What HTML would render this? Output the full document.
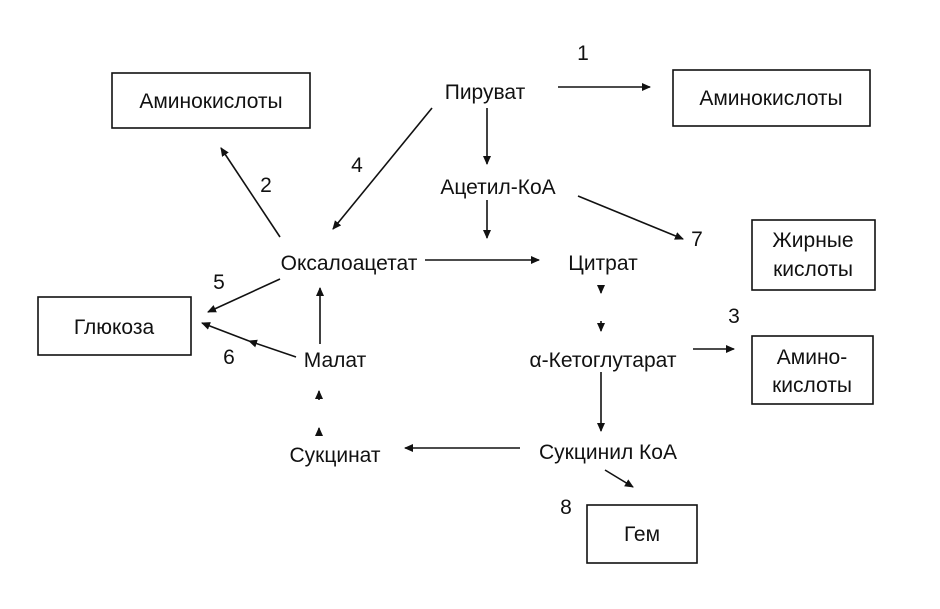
<!DOCTYPE html>
<html><head><meta charset="utf-8"><style>
html,body{margin:0;padding:0;background:#fff;}
svg{display:block}
text{font-family:"Liberation Sans","DejaVu Sans",sans-serif;font-size:21px;fill:#111}
</style></head><body>
<svg width="940" height="609" viewBox="0 0 940 609" xmlns="http://www.w3.org/2000/svg">
<defs>
<marker id="a" markerWidth="10" markerHeight="10" refX="8" refY="5" orient="auto" markerUnits="userSpaceOnUse">
<path d="M0,1 L9,5 L0,9 Z" fill="#111"/></marker>
</defs>
<g fill="none" stroke="#111" stroke-width="1.6">
<rect x="112" y="73" width="198" height="55"/>
<rect x="673" y="70" width="197" height="56"/>
<rect x="752" y="220" width="123" height="70"/>
<rect x="38" y="297" width="153" height="58"/>
<rect x="752" y="336" width="121" height="68"/>
<rect x="587" y="505" width="110" height="58"/>
</g>
<g stroke="#111" stroke-width="1.6" fill="none" marker-end="url(#a)">
<line x1="558" y1="87" x2="650" y2="87"/>
<line x1="487" y1="108" x2="487" y2="164"/>
<line x1="487" y1="200" x2="487" y2="238"/>
<line x1="432" y1="108" x2="333" y2="229"/>
<line x1="280" y1="237" x2="221" y2="148"/>
<line x1="578" y1="196" x2="683" y2="239"/>
<line x1="425" y1="260" x2="539" y2="260"/>
<line x1="280" y1="279" x2="208" y2="312"/>
<line x1="296" y1="357" x2="249" y2="341"/>
<line x1="249" y1="341" x2="202" y2="323"/>
<line x1="320" y1="344" x2="320" y2="288"/>
<line x1="319" y1="400" x2="319" y2="391"/>
<line x1="319" y1="436" x2="319" y2="428"/>
<line x1="601" y1="285" x2="601" y2="293"/>
<line x1="601" y1="321" x2="601" y2="331"/>
<line x1="693" y1="349" x2="734" y2="349"/>
<line x1="601" y1="372" x2="601" y2="431"/>
<line x1="520" y1="448" x2="405" y2="448"/>
<line x1="605" y1="470" x2="633" y2="487"/>
</g>
<text x="211" y="108" text-anchor="middle">Аминокислоты</text>
<text x="771" y="105" text-anchor="middle">Аминокислоты</text>
<text x="813" y="247" text-anchor="middle">Жирные</text>
<text x="813" y="276" text-anchor="middle">кислоты</text>
<text x="114" y="334" text-anchor="middle">Глюкоза</text>
<text x="812" y="364" text-anchor="middle">Амино-</text>
<text x="812" y="392" text-anchor="middle">кислоты</text>
<text x="642" y="541" text-anchor="middle">Гем</text>
<text x="485" y="99" text-anchor="middle">Пируват</text>
<text x="498" y="194" text-anchor="middle">Ацетил-КоА</text>
<text x="349" y="270" text-anchor="middle">Оксалоацетат</text>
<text x="603" y="270" text-anchor="middle">Цитрат</text>
<text x="335" y="367" text-anchor="middle">Малат</text>
<text x="603" y="367" text-anchor="middle">α-Кетоглутарат</text>
<text x="608" y="459" text-anchor="middle">Сукцинил КоА</text>
<text x="335" y="462" text-anchor="middle">Сукцинат</text>
<text x="583" y="60" text-anchor="middle">1</text>
<text x="266" y="192" text-anchor="middle">2</text>
<text x="734" y="323" text-anchor="middle">3</text>
<text x="357" y="172" text-anchor="middle">4</text>
<text x="219" y="289" text-anchor="middle">5</text>
<text x="229" y="364" text-anchor="middle">6</text>
<text x="697" y="246" text-anchor="middle">7</text>
<text x="566" y="514" text-anchor="middle">8</text>
</svg>
</body></html>
